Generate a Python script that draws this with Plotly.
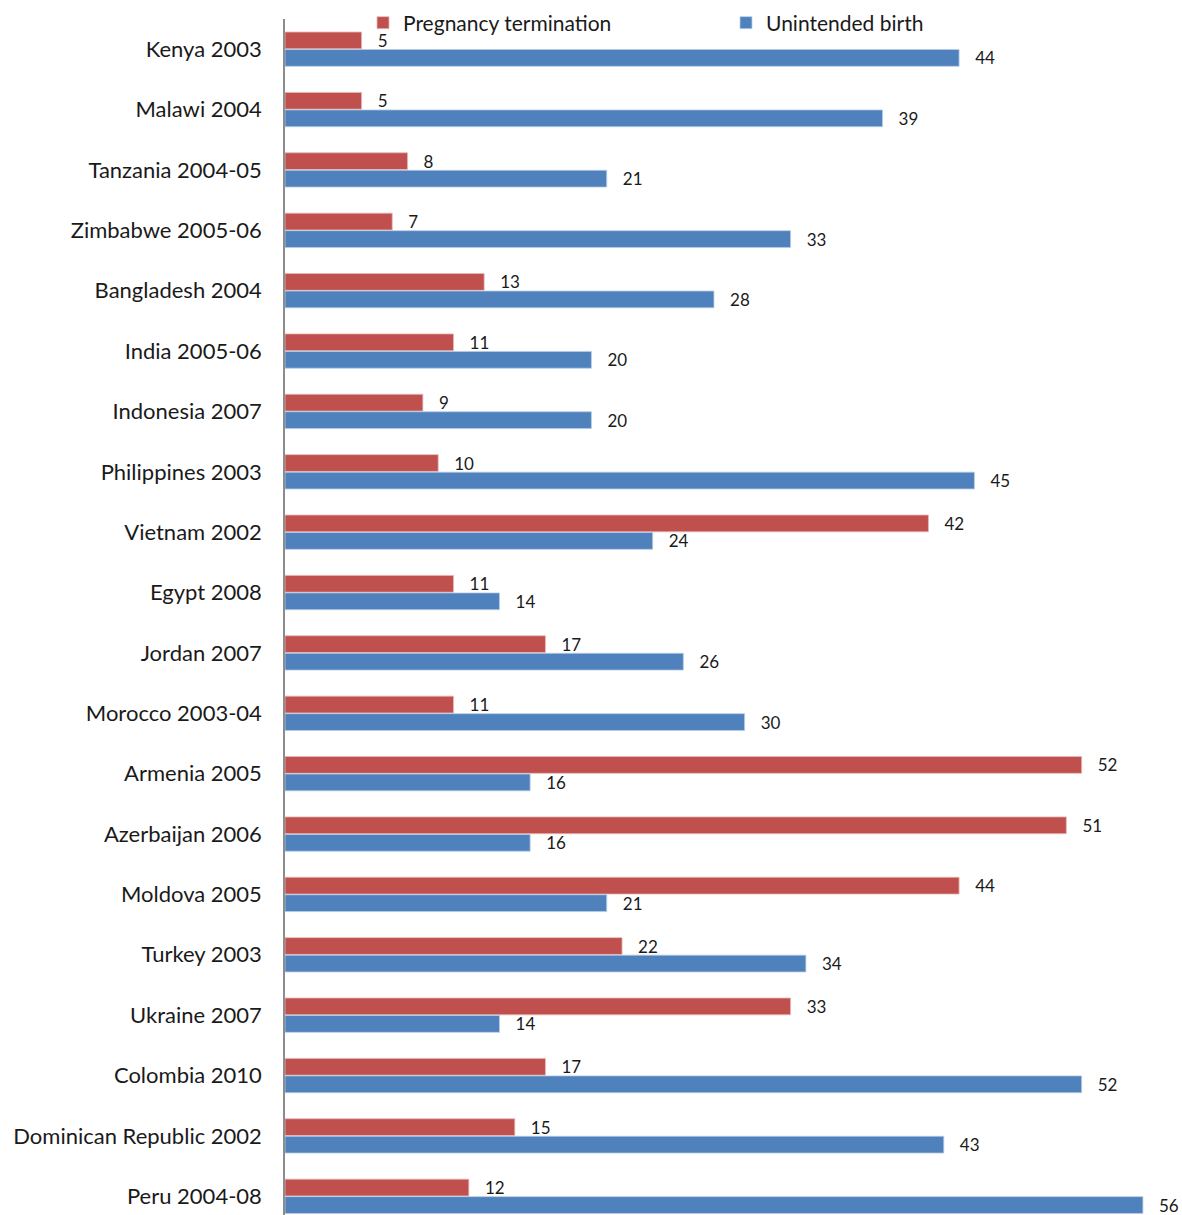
import plotly.graph_objects as go

categories = ["Kenya 2003", "Malawi 2004", "Tanzania 2004-05", "Zimbabwe 2005-06",
              "Bangladesh 2004", "India 2005-06", "Indonesia 2007", "Philippines 2003",
              "Vietnam 2002", "Egypt 2008", "Jordan 2007", "Morocco 2003-04",
              "Armenia 2005", "Azerbaijan 2006", "Moldova 2005", "Turkey 2003",
              "Ukraine 2007", "Colombia 2010", "Dominican Republic 2002", "Peru 2004-08"]
termination = [5, 5, 8, 7, 13, 11, 9, 10, 42, 11, 17, 11, 52, 51, 44, 22, 33, 17, 15, 12]
unintended = [44, 39, 21, 33, 28, 20, 20, 45, 24, 14, 26, 30, 16, 16, 21, 34, 14, 52, 43, 56]

FONT = "Lato"
pad = "\u00a0\u00a0\u00a0"

fig = go.Figure()
fig.add_trace(go.Bar(
    y=categories, x=termination, orientation="h", name="Pregnancy termination",
    marker=dict(color="#C0504D", line=dict(color="#E6B9B8", width=0.8)),
    text=[pad + str(v) for v in termination], textposition="outside",
    textfont=dict(family=FONT, size=17, color="#1a1a1a"), constraintext="none",
    cliponaxis=False, hoverinfo="x+y",
))
fig.add_trace(go.Bar(
    y=categories, x=unintended, orientation="h", name="Unintended birth",
    marker=dict(color="#4F81BD", line=dict(color="#B9CDE5", width=0.8)),
    text=[pad + str(v) for v in unintended], textposition="outside",
    textfont=dict(family=FONT, size=17, color="#1a1a1a"), constraintext="none",
    cliponaxis=False, hoverinfo="x+y",
))

fig.update_layout(
    width=1182, height=1215,
    margin=dict(l=285, r=0, t=19, b=0, autoexpand=False),
    paper_bgcolor="white", plot_bgcolor="white",
    barmode="group", bargap=0.42, bargroupgap=0.04,
    font=dict(family=FONT, color="#1a1a1a"),
    showlegend=True,
    legend=dict(orientation="h", x=363 / 1182, xanchor="left", xref="container",
                y=1 - 23 / 1215, yanchor="middle", yref="container",
                entrywidth=318, font=dict(family=FONT, size=21),
                bgcolor="rgba(0,0,0,0)", borderwidth=0, traceorder="normal"),
    xaxis=dict(range=[0, 58.55], showgrid=False, zeroline=False, showticklabels=False,
               ticks="", showline=False),
    yaxis=dict(type="category", categoryorder="array", categoryarray=categories,
               range=[19.31, -0.5], showgrid=False, zeroline=False, ticks="",
               showline=True, linecolor="#8c8c8c", linewidth=1.5,
               tickfont=dict(family=FONT, size=22, color="#1a1a1a"),
               ticklabelstandoff=17),
)

fig.write_html("out.html")
